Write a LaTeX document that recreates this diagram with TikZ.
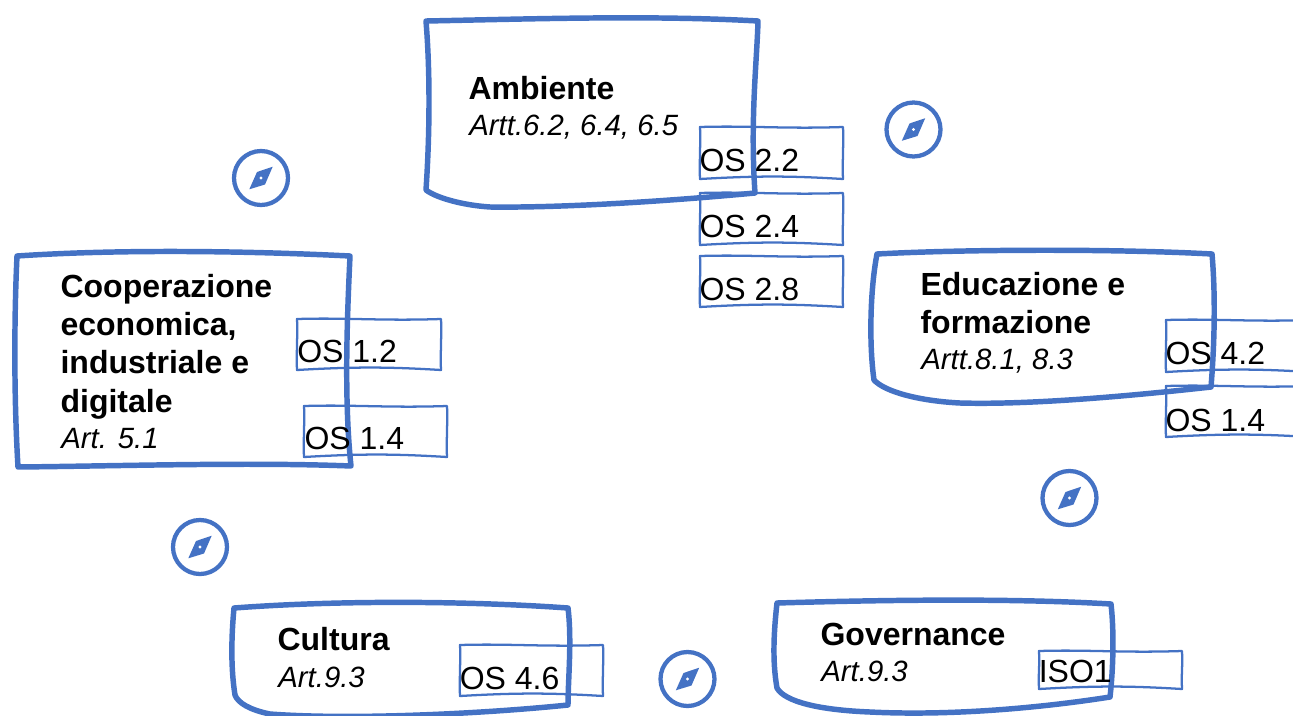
\documentclass[tikz,border=0pt]{standalone}
\usepackage{fontspec}
\setmainfont{Liberation Sans}
\definecolor{skblue}{HTML}{4472C4}
\tikzset{
  x=0.75pt,y=-0.75pt,
  bigbox/.style={draw=skblue,line width=4.1pt,line join=round,line cap=round},
  smallbox/.style={draw=skblue,line width=1.7pt,line join=round},
  ostext/.style={anchor=base west,inner sep=0pt,text=black,font=\fontsize{24}{28}\selectfont},
  headtext/.style={anchor=north west,inner sep=0pt,align=left,text=black,font=\fontsize{24}{28.7}\selectfont},
  compass/.pic={
    \draw[draw=skblue,line width=3.2pt] (0,0) circle[radius=27];
    \fill[skblue] (11.7,-11.3) -- (4,6.5) -- (-11.7,11.3) -- (-4,-6) -- cycle;
    \fill[white] (0,0) circle[radius=1.7];
  }
}
\newcommand{\skbox}[4]{%
  \draw[smallbox] (#1,#2) .. controls ({#1+50},{#2-1.5}) and ({#3-60},{#2+2}) .. (#3,#2)
    .. controls ({#3+0.8},{#2+15}) and ({#3-0.8},{#4-15}) .. (#3,#4)
    .. controls ({#3-50},{#4-3}) and ({#1+60},{#4-3.5}) .. (#1,#4)
    .. controls ({#1-0.8},{#4-15}) and ({#1+0.8},{#2+15}) .. cycle;}
\newcommand{\hd}[1]{{\bfseries #1}}
\newcommand{\ar}[1]{{\fontsize{22}{36}\selectfont\itshape\hspace{0.6pt}#1}}
\begin{document}
\begin{tikzpicture}
\useasboundingbox (0,0) rectangle (1293,715);
\clip (0,0) rectangle (1293,715);

% small boxes
\skbox{700}{127}{843}{179}
\skbox{700}{193}{843}{245}
\skbox{700}{256}{843}{307}
\skbox{297}{319}{441}{370}
\skbox{304}{406}{447}{457}
\skbox{1166}{320}{1310}{372}
\skbox{1166}{386}{1310}{437}
\skbox{460}{645}{603}{696}
\skbox{1039}{651}{1182}{689}

% large boxes
\draw[bigbox] (426,21) .. controls (530,19) and (650,15) .. (758,21)
  .. controls (757,60) and (750,120) .. (755,193)
  .. controls (680,200) and (570,208) .. (490,207)
  .. controls (460,205) and (435,197) .. (426,190)
  .. controls (430,130) and (430,70) .. cycle;
\draw[bigbox] (17,256) .. controls (120,249) and (250,251) .. (350,256)
  .. controls (347,320) and (344,400) .. (351,466)
  .. controls (250,462) and (120,466) .. (18,467)
  .. controls (14,400) and (14,320) .. cycle;
\draw[bigbox] (877,254) .. controls (970,249) and (1120,249) .. (1212,254)
  .. controls (1216,300) and (1214,350) .. (1211,387)
  .. controls (1130,396) and (1030,405) .. (960,403)
  .. controls (920,401) and (885,392) .. (874,380)
  .. controls (869,345) and (870,290) .. cycle;
\draw[bigbox] (234,608) .. controls (340,600) and (470,601) .. (568,608)
  .. controls (572,640) and (568,680) .. (568,705)
  .. controls (480,714) and (350,720) .. (270,714)
  .. controls (250,710) and (238,703) .. (235,695)
  .. controls (231,670) and (231,640) .. cycle;
\draw[bigbox] (777,603) .. controls (880,600) and (1010,598) .. (1111,604)
  .. controls (1115,640) and (1112,680) .. (1110,697)
  .. controls (1040,708) and (950,716) .. (870,712)
  .. controls (820,710) and (785,702) .. (777,688)
  .. controls (772,660) and (774,630) .. cycle;

% compass icons
\pic at (261,178) {compass};
\pic at (913.5,129.5) {compass};
\pic at (200,547) {compass};
\pic at (1069.5,498) {compass};
\pic at (687.5,679) {compass};

% texts
\node[headtext] (ambiente) at (468.3,76.5) {\hd{Ambiente}\\[-1.7pt]\ar{Artt.6.2, 6.4, 6.5}};
\node[headtext] (cooperazione) at (60.3,274) {\hd{Cooperazione}\\\hd{economica,}\\\hd{industriale e}\\\hd{digitale}\\[-1.5pt]\ar{Art. 5.1}};
\node[headtext] (educazione) at (920.3,272) {\hd{Educazione e}\\\hd{formazione}\\[-1.5pt]\ar{Artt.8.1, 8.3}};
\node[headtext] (cultura) at (277.3,627.5) {\hd{Cultura}\\[-1.5pt]\ar{Art.9.3}};
\node[headtext] (governance) at (820.3,622.5) {\hd{Governance}\\[-1.5pt]\ar{Art.9.3}};

\node[ostext] (os22) at (699.3,171) {OS 2.2};
\node[ostext] (os24) at (699.3,237) {OS 2.4};
\node[ostext] (os28) at (699.3,300) {OS 2.8};
\node[ostext] (os12) at (297,362) {OS 1.2};
\node[ostext] (os14a) at (304.3,449) {OS 1.4};
\node[ostext] (os42) at (1165.3,364) {OS 4.2};
\node[ostext] (os14b) at (1165.3,431) {OS 1.4};
\node[ostext] (os46) at (459.5,689) {OS 4.6};
\node[ostext] (iso1) at (1038.5,682) {ISO1};
\end{tikzpicture}
\end{document}
